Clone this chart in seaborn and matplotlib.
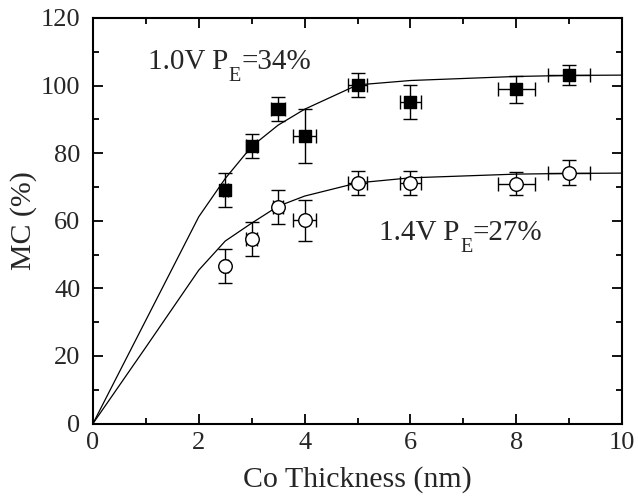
import matplotlib
matplotlib.use("Agg")
import matplotlib.pyplot as plt
import seaborn as sns
import pandas as pd
from matplotlib.ticker import MultipleLocator
from matplotlib.transforms import offset_copy

# ---- data ----
thickness = [2.5, 3.0, 3.5, 4.0, 5.0, 6.0, 8.0, 9.0]

mc_10v = [69.1, 82.1, 93.1, 85.1, 100.1, 95.2, 98.9, 103.2]
mc_10v_yerr = [5.0, 3.5, 3.5, 8.0, 3.5, 5.0, 4.0, 3.0]
mc_10v_xerr = [0.05, 0.1, 0.13, 0.21, 0.18, 0.2, 0.35, 0.4]

mc_14v = [46.6, 54.5, 64.0, 60.1, 71.2, 71.2, 71.0, 74.2]
mc_14v_yerr = [5.0, 5.0, 5.0, 6.0, 3.5, 3.5, 3.4, 3.7]
mc_14v_xerr = [0.05, 0.1, 0.1, 0.21, 0.18, 0.2, 0.35, 0.4]

fit_x = [0, 1, 2, 2.5, 3, 3.5, 4, 5, 6, 8, 9, 10]
fit_10v = [0, 30.6, 61.2, 72.5, 82.0, 88.3, 93.0, 100.2, 101.5, 102.7, 103.0, 103.1]
fit_14v = [0, 22.6, 45.4, 54.0, 59.3, 64.3, 67.3, 71.2, 72.7, 73.8, 74.0, 74.1]

# annotation pieces: (main text, subscript, rest)
label_10v = ("1.0V P", "E", "=34%")
label_14v = ("1.4V P", "E", "=27%")

# ---- style ----
sns.set_style("ticks")
plt.rcParams["font.family"] = ["Liberation Serif", "DejaVu Serif"]

fig = plt.figure(figsize=(6.38, 4.99), dpi=100)
ax = fig.add_axes([93 / 638, 1 - 423.5 / 499, (622 - 93) / 638, (423.5 - 18) / 499])

fit_df = pd.DataFrame({"x": fit_x + fit_x,
                       "y": fit_10v + fit_14v,
                       "s": ["1.0V"] * len(fit_x) + ["1.4V"] * len(fit_x)})
sns.lineplot(data=fit_df, x="x", y="y", units="s", estimator=None, sort=False,
             color="black", linewidth=0.9, ax=ax, legend=False)

ax.errorbar(thickness, mc_10v, yerr=mc_10v_yerr, xerr=mc_10v_xerr, fmt="none",
            ecolor="black", elinewidth=1.0, capsize=5, capthick=1.0, zorder=3)
ax.errorbar(thickness, mc_14v, yerr=mc_14v_yerr, xerr=mc_14v_xerr, fmt="none",
            ecolor="black", elinewidth=1.0, capsize=5, capthick=1.0, zorder=3)

pts = pd.DataFrame({"x": thickness + thickness, "y": mc_10v + mc_14v,
                    "s": ["1.0V"] * len(thickness) + ["1.4V"] * len(thickness)})
sns.scatterplot(data=pts[pts.s == "1.0V"], x="x", y="y", marker="s", s=75,
                color="black", edgecolor="black", linewidth=1.0, ax=ax,
                zorder=4, legend=False)
sns.scatterplot(data=pts[pts.s == "1.4V"], x="x", y="y", marker="o", s=95,
                facecolor="white", edgecolor="black", linewidth=1.0, ax=ax,
                zorder=4, legend=False)

ax.set_xlim(0, 10)
ax.set_ylim(0, 120)
ax.xaxis.set_major_locator(MultipleLocator(2))
ax.xaxis.set_minor_locator(MultipleLocator(1))
ax.yaxis.set_major_locator(MultipleLocator(20))
ax.yaxis.set_minor_locator(MultipleLocator(10))
ax.tick_params(which="both", direction="in", top=True, right=True,
               width=1.3, color="black")
ax.tick_params(which="major", length=7, labelsize=19)
ax.tick_params(axis="y", which="major", pad=9)
ax.tick_params(axis="x", which="major", pad=6)
ax.tick_params(which="minor", length=4)
for sp in ax.spines.values():
    sp.set_visible(True)
    sp.set_linewidth(1.5)
    sp.set_color("black")

ax.set_xlabel("Co Thickness (nm)", fontsize=21.5, labelpad=9)
ax.set_ylabel("MC (%)", fontsize=21.5, labelpad=3)


def subscript_label(x, y, parts, size=21, subsize=14.5, drop=12):
    main, sub, rest = parts
    renderer = fig.canvas.get_renderer()
    t1 = ax.text(x, y, main, fontsize=size, ha="left", va="baseline")
    w1 = t1.get_window_extent(renderer).width
    tr2 = offset_copy(t1.get_transform(), fig=fig, x=w1 + 0.5, y=-drop, units="dots")
    t2 = ax.text(x, y, sub, fontsize=subsize, ha="left", va="baseline", transform=tr2)
    w2 = t2.get_window_extent(renderer).width
    tr3 = offset_copy(t1.get_transform(), fig=fig, x=w1 + w2 + 0.5, y=0, units="dots")
    ax.text(x, y, rest, fontsize=size, ha="left", va="baseline", transform=tr3)


fig.canvas.draw()
subscript_label(1.04, 104.9, label_10v)
subscript_label(5.41, 54.3, label_14v)

fig.savefig("out.png", dpi=100)
